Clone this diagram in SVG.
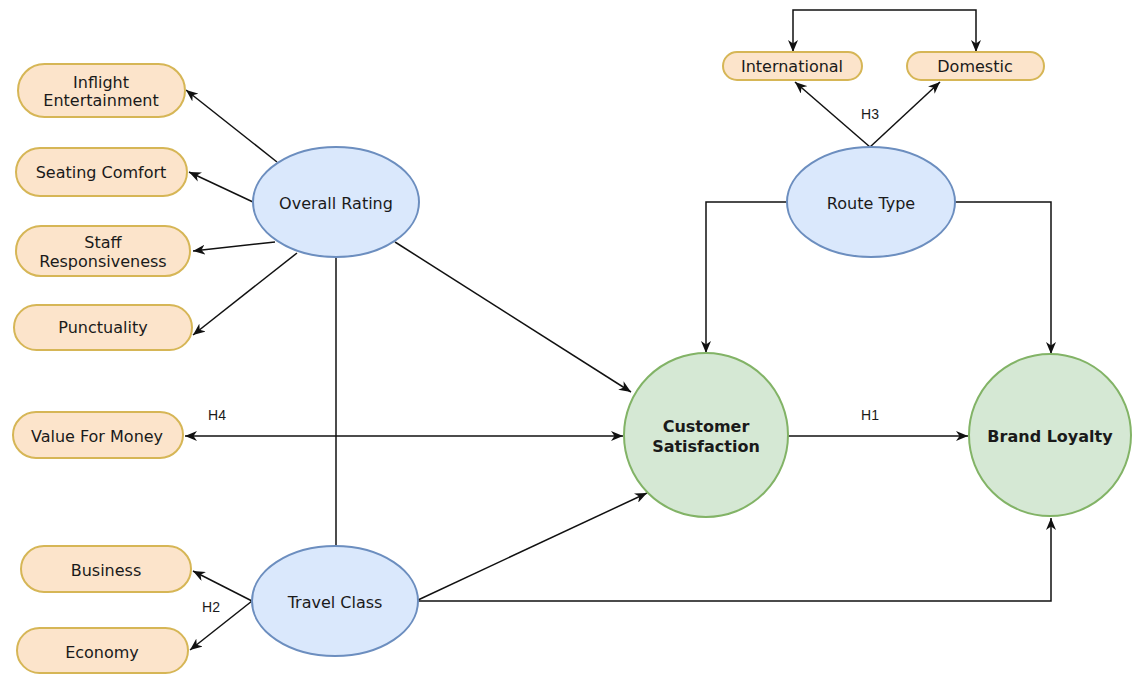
<svg xmlns="http://www.w3.org/2000/svg" width="1135" height="675" viewBox="0 0 1135 675">
<style>
.pill{fill:#fce4cb;stroke:#d6b656;stroke-width:2}
.ell{fill:#dae8fc;stroke:#6c8ebf;stroke-width:2}
.circ{fill:#d5e8d4;stroke:#82b366;stroke-width:2}
.t{font-family:"DejaVu Sans",Verdana,sans-serif;font-size:16px;fill:#1a1a1a;text-anchor:middle;dominant-baseline:central}
.b{font-weight:bold;font-size:16px}
.h{font-family:"Liberation Sans",Arial,sans-serif;font-size:14px;fill:#1a1a1a;text-anchor:middle;dominant-baseline:central}
.e{fill:none;stroke:#111;stroke-width:1.5}
</style>
<defs>
<marker id="a" viewBox="0 0 12 10" refX="12" refY="5" markerWidth="12" markerHeight="10" markerUnits="userSpaceOnUse" orient="auto-start-reverse">
<path d="M0,0 L12,5 L0,10 L3.5,5 Z" fill="#111"/>
</marker>
</defs>
<rect width="1135" height="675" fill="#fff"/>
<g id="connectors">
<line class="e" x1="277" y1="162" x2="186" y2="90" marker-end="url(#a)"/>
<line class="e" x1="253" y1="202" x2="189" y2="172" marker-end="url(#a)"/>
<line class="e" x1="275" y1="242" x2="193" y2="251" marker-end="url(#a)"/>
<line class="e" x1="297" y1="253" x2="193" y2="335" marker-end="url(#a)"/>
<line class="e" x1="395" y1="242" x2="631" y2="392" marker-end="url(#a)"/>
<line class="e" x1="336" y1="257" x2="336" y2="546"/>
<line class="e" x1="185" y1="436" x2="623" y2="436" marker-start="url(#a)" marker-end="url(#a)"/>
<line class="e" x1="252" y1="601" x2="193" y2="571" marker-end="url(#a)"/>
<line class="e" x1="252" y1="601" x2="190" y2="650" marker-end="url(#a)"/>
<line class="e" x1="418" y1="600" x2="647" y2="493" marker-end="url(#a)"/>
<polyline class="e" points="418,601 1051,601 1051,518" marker-end="url(#a)"/>
<line class="e" x1="788" y1="436" x2="968" y2="436" marker-end="url(#a)"/>
<polyline class="e" points="787,202 706,202 706,353" marker-end="url(#a)"/>
<polyline class="e" points="955,202 1051,202 1051,354" marker-end="url(#a)"/>
<line class="e" x1="870" y1="147" x2="795" y2="82" marker-end="url(#a)"/>
<line class="e" x1="870" y1="147" x2="940" y2="82" marker-end="url(#a)"/>
<polyline class="e" points="793,52 793,10 976,10 976,52" marker-start="url(#a)" marker-end="url(#a)"/>
<text class="h" x="217" y="415">H4</text>
<text class="h" x="211" y="607">H2</text>
<text class="h" x="870" y="415">H1</text>
<text class="h" x="870" y="114">H3</text>
</g>
<g id="inflight"><rect class="pill" x="18" y="64" width="167" height="53" rx="26.5"/><text class="t" x="101" y="82">Inflight</text><text class="t" x="101" y="100">Entertainment</text></g>
<g id="seating"><rect class="pill" x="16" y="148" width="171" height="48" rx="24"/><text class="t" x="101" y="172">Seating Comfort</text></g>
<g id="staff"><rect class="pill" x="16" y="226" width="174" height="50" rx="25"/><text class="t" x="103" y="242">Staff</text><text class="t" x="103" y="261">Responsiveness</text></g>
<g id="punctuality"><rect class="pill" x="14" y="305" width="178" height="45" rx="22.5"/><text class="t" x="103" y="327">Punctuality</text></g>
<g id="value"><rect class="pill" x="13" y="412" width="170" height="46" rx="23"/><text class="t" x="97" y="436">Value For Money</text></g>
<g id="business"><rect class="pill" x="21" y="546" width="170" height="46" rx="23"/><text class="t" x="106" y="570">Business</text></g>
<g id="economy"><rect class="pill" x="17" y="628" width="171" height="45" rx="22.5"/><text class="t" x="102" y="652">Economy</text></g>
<g id="international"><rect class="pill" x="723" y="52" width="139" height="28" rx="14"/><text class="t" x="792" y="66">International</text></g>
<g id="domestic"><rect class="pill" x="907" y="52" width="137" height="28" rx="14"/><text class="t" x="975" y="66">Domestic</text></g>
<g id="overall"><ellipse class="ell" cx="336" cy="202" rx="83" ry="55"/><text class="t" x="336" y="203">Overall Rating</text></g>
<g id="route"><ellipse class="ell" cx="871" cy="202" rx="84" ry="55"/><text class="t" x="871" y="203">Route Type</text></g>
<g id="travel"><ellipse class="ell" cx="335" cy="601" rx="83" ry="55"/><text class="t" x="335" y="602">Travel Class</text></g>
<g id="satisfaction"><circle class="circ" cx="706" cy="435" r="82"/><text class="t b" x="706" y="426">Customer</text><text class="t b" x="706" y="446">Satisfaction</text></g>
<g id="loyalty"><circle class="circ" cx="1050" cy="435" r="81"/><text class="t b" x="1050" y="436">Brand Loyalty</text></g>
</svg>
